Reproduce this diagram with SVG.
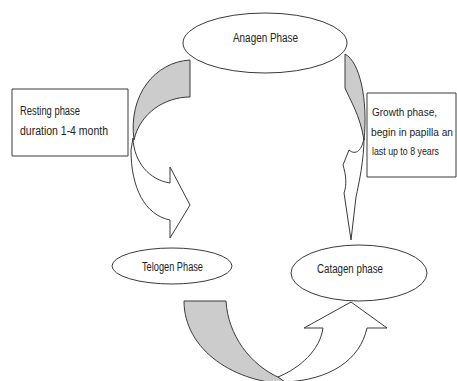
<svg xmlns="http://www.w3.org/2000/svg" width="457" height="381" viewBox="0 0 457 381">
<style>
.sh{stroke:#3a3a3a;stroke-width:1;stroke-linejoin:round}
.g{fill:#cccccc}
.w{fill:#ffffff}
.t{font-family:"Liberation Sans",Arial,sans-serif;font-size:12px;fill:#222222}
.s{font-size:10.5px}
</style>
<rect width="457" height="381" fill="#ffffff"/>
<g id="connectors">
  <g id="arrow-left">
    <path class="sh w" d="M133,138 C134,163 150,180 170,183 L170,167 L190,205 L170,238 L170,220 C145,215 131,188 131,150 Z"/>
    <path class="sh g" d="M190,60 L190,97 C165,97 140,113 134,140 C128,95 155,62 190,60 Z"/>
  </g>
  <g id="arrow-right">
    <path class="sh w" d="M364,138 C362,150 356,156 349,150 L343,165 C346,175 347,185 344,193 L351,240 L356,197 C359,183 364,160 364,138 Z"/>
    <path class="sh g" d="M345,54 C360,62 368,100 364,140 C360,115 350,100 345,88 Z"/>
  </g>
  <g id="arrow-bottom">
    <path class="sh g" d="M184,301 L226,301 C228,335 250,365 280,378 L292,384 C235,384 184,350 184,301 Z"/>
    <path class="sh w" d="M278,377 C300,368 320,350 323,328 L304,328 L351,302 L387,328 L367,328 C360,360 330,380 285,382 Z"/>
  </g>
</g>
<g id="anagen">
  <ellipse class="sh w" cx="265" cy="43" rx="82" ry="30"/>
  <text class="t" x="233" y="42" textLength="65" lengthAdjust="spacingAndGlyphs">Anagen Phase</text>
</g>
<g id="telogen">
  <ellipse class="sh w" cx="172" cy="266" rx="60" ry="18"/>
  <text class="t" x="142" y="271" textLength="61" lengthAdjust="spacingAndGlyphs">Telogen Phase</text>
</g>
<g id="catagen">
  <ellipse class="sh w" cx="359" cy="273" rx="68" ry="28"/>
  <text class="t" x="317" y="273" textLength="66" lengthAdjust="spacingAndGlyphs">Catagen phase</text>
</g>
<g id="resting-note">
  <rect class="sh w" x="12" y="89" width="116" height="67"/>
  <text class="t" x="20" y="115" textLength="60" lengthAdjust="spacingAndGlyphs">Resting phase</text>
  <text class="t" x="20" y="135" textLength="88" lengthAdjust="spacingAndGlyphs">duration 1-4 month</text>
</g>
<g id="growth-note">
  <rect class="sh w" x="367" y="93" width="89" height="84"/>
  <text class="t s" x="372" y="116" textLength="65" lengthAdjust="spacingAndGlyphs">Growth phase,</text>
  <text class="t s" x="371" y="136" textLength="82" lengthAdjust="spacingAndGlyphs">begin in papilla an</text>
  <text class="t s" x="372" y="155" textLength="67" lengthAdjust="spacingAndGlyphs">last up to 8 years</text>
</g>
</svg>
